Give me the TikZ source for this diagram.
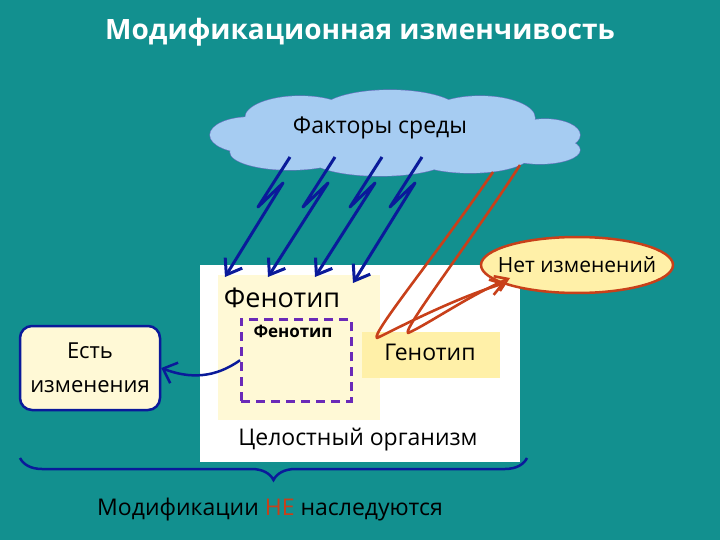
\documentclass[tikz,border=0pt]{standalone}
\usepackage{fontspec}
\setmainfont{Open Sans}
\usetikzlibrary{shapes.symbols,shapes.geometric,decorations.pathreplacing,arrows.meta}
\definecolor{bg}{HTML}{12908F}
\definecolor{cloudc}{HTML}{A6CCF2}
\definecolor{navy}{HTML}{0A1A9A}
\definecolor{paley}{HTML}{FFF9D6}
\definecolor{geny}{HTML}{FFF0A8}
\definecolor{redc}{HTML}{C8401A}
\definecolor{purp}{HTML}{6A2AB8}
\tikzset{
 lbl/.style={font=\fontsize{23}{26}\selectfont, text=black, inner sep=0pt},
 bolt/.style={navy, line width=3pt, line join=round, -{Straight Barb[length=14pt,width=20pt,line width=3pt]}},
 rbolt/.style={redc, line width=2.6pt, line join=round, -{Straight Barb[length=12pt,width=16pt,line width=2.6pt]}}
}
\begin{document}
\begin{tikzpicture}[x=1pt,y=-1pt]
\fill[bg] (0,0) rectangle (720,540);
\useasboundingbox (0,0) rectangle (720,540);
\node[text=white, font=\fontsize{28}{32}\selectfont\bfseries] (title) at (360,32) {Модификационная изменчивость};
\def\puffs{(250,135) ellipse (40 and 18) (300,118) ellipse (55 and 22) (390,112) ellipse (70 and 22) (480,118) ellipse (55 and 22) (545,135) ellipse (35 and 16) (540,150) ellipse (40 and 14) (470,155) ellipse (60 and 18) (380,158) ellipse (70 and 18) (290,152) ellipse (60 and 18) (395,138) ellipse (150 and 25)}
\draw[navy!60, line width=1.2pt] \puffs;
\fill[cloudc] \puffs;
\node[inner sep=0, minimum width=370, minimum height=72] (cloud) at (395,138) {};
\node[lbl] (cl) at (380,128) {Факторы среды};
\node[fill=white, minimum width=320, minimum height=197, inner sep=0, anchor=north west] (org) at (200,265) {};
\node[fill=paley, minimum width=162, minimum height=145, inner sep=0, anchor=north west] (phen) at (218,275) {};
\node[lbl, font=\fontsize{27}{30}\selectfont] (phl) at (282,298) {Фенотип};
\node[draw=purp, dashed, dash pattern=on 9pt off 6pt, line width=2.5pt, minimum width=110, minimum height=82, inner sep=0, anchor=north west] (dash) at (240,318) {};
\node[lbl, font=\fontsize{17}{20}\selectfont\bfseries] (dl) at (293,331) {Фенотип};
\node[fill=geny, minimum width=138, minimum height=46, inner sep=0, anchor=north west] (gen) at (362,332) {};
\node[lbl] (gl) at (430,352) {Генотип};
\node[lbl] (ol) at (358,440) {Целостный организм};
\node[draw=navy, line width=2.5pt, fill=paley, rounded corners=12pt, minimum width=140, minimum height=84, inner sep=0, align=center, font=\fontsize{22}{34}\selectfont] (est) at (90,368) {Есть\\изменения};
\draw[navy, line width=2.5pt, -{Straight Barb[length=12pt,width=22pt,line width=2.5pt]}] (dash.west) .. controls (215,378) and (190,379) .. (est.east);
\node[ellipse, draw=redc, line width=2.5pt, fill=geny, minimum width=192, minimum height=56, inner sep=0] (net) at (577,265) {};
\node[lbl, font=\fontsize{21}{24}\selectfont] (nl) at (577,265) {Нет изменений};
\foreach \dx/\ex/\ey [count=\i] in {0/225/277, 45/268/277, 92/315/277, 132/353/283}{
  \coordinate (b\i s) at (290+\dx,157);
  \coordinate (b\i e) at (\ex,\ey);
  \draw[bolt] (b\i s) -- ++(-32,50) -- ++(25,-24) -- (b\i e);
}
\coordinate (r1s) at (493,172);
\coordinate (r1e) at (505,283);
\coordinate (r2s) at (520,165);
\coordinate (r2e) at (510,278);
\draw[rbolt] (r1s) .. controls (440,250) and (370,335) .. (377,338) .. controls (390,332) and (450,300) .. (r1e);
\draw[rbolt] (r2s) .. controls (475,235) and (402,330) .. (408,333) .. controls (425,326) and (470,295) .. (r2e);
\coordinate (bl) at (20,458);
\coordinate (br) at (527,458);
\draw[navy, line width=2.5pt, decorate, decoration={brace, amplitude=22pt, aspect=0.5}] (br) -- (bl);
\node[lbl] (bot) at (270,510) {Модификации \textcolor{redc}{НЕ} наследуются};
\end{tikzpicture}
\end{document}
